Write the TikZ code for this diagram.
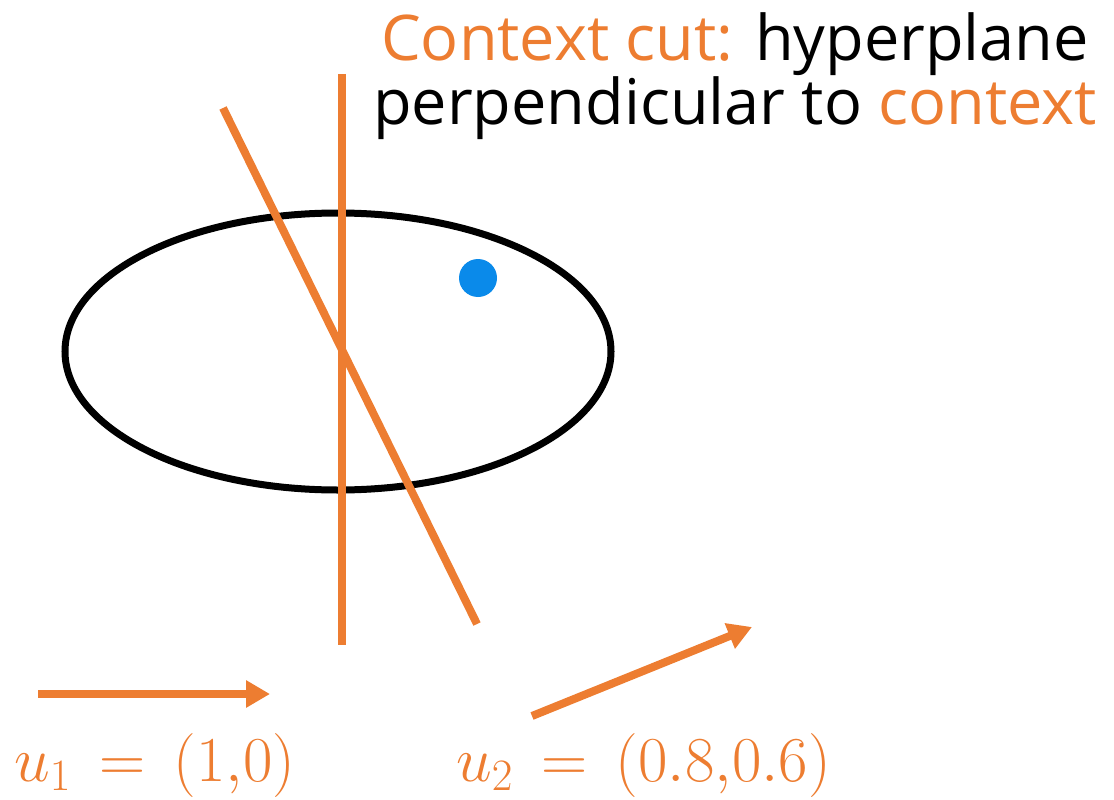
\RequirePackage{fix-cm}
\documentclass[tikz,border=0pt]{standalone}
\usepackage{fontspec}
\setmainfont{Open Sans}
\usepackage{xcolor}
\usepackage{tikz}
\usetikzlibrary{arrows.meta,positioning,calc}
\definecolor{cutorange}{RGB}{237,125,49}
\definecolor{dotblue}{RGB}{10,138,234}
\tikzset{
  cutline/.style={
    line width=8pt,
    cutorange
  },
  region/.style={
    line width=7pt,
    black
  },
  vecarrow/.style={
    -{Triangle[length=24pt,width=26pt]},
    line width=8pt,
    cutorange
  },
  veclabel/.style={
    anchor=base west,
    inner sep=0pt,
    text=cutorange,
    font=\fontsize{64}{64}\selectfont
  },
  point/.style={
    circle,
    fill=dotblue,
    minimum size=38pt,
    inner sep=0pt
  }
}

\begin{document}
\begin{tikzpicture}[x=1pt,y=-1pt]
\useasboundingbox (0,0) rectangle (1114,800);
% feasible region
\draw[region] (338,351.5) ellipse [x radius=273, y radius=138.5];
\node[point] (pt) at (478,278) {};
% the two cuts
\coordinate (vtop) at (342,74);
\coordinate (vbot) at (342,645);
\coordinate (stop) at (223,108);
\coordinate (sbot) at (477,624);
\draw[cutline] (vtop) -- (vbot);
\draw[cutline] (stop) -- (sbot);
% context vectors
\coordinate (aone) at (38,694);
\coordinate (bone) at (270,694);
\coordinate (atwo) at (532,716);
\coordinate (btwo) at (752,627);
\draw[vecarrow] (aone) -- (bone);
\draw[vecarrow] (atwo) -- (btwo);
\node[veclabel] (lone) at (14,781) {$u_1\,=\,(1{,}0)$};
\node[veclabel] (ltwo) at (456,781) {$u_2\,=\,(0.8{,}0.6)$};
% caption
\node[anchor=north, align=center, inner sep=0pt,
  font=\fontsize{63}{62}\selectfont] (title) at (735,12)
  {\textcolor{cutorange}{Context cut:} hyperplane\\
   perpendicular to \textcolor{cutorange}{context}};
\end{tikzpicture}
\end{document}
